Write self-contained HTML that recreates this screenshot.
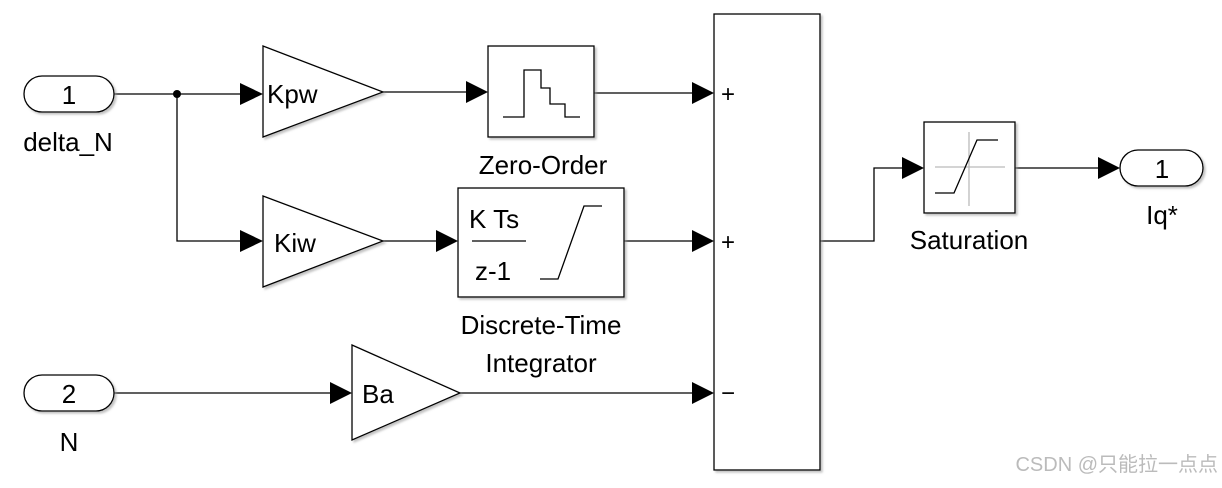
<!DOCTYPE html>
<html><head><meta charset="utf-8"><style>
body{margin:0;background:#fff;width:1222px;height:483px;overflow:hidden}
text{font-family:"Liberation Sans",Arial,sans-serif;fill:#000}
</style></head><body>
<svg width="1222" height="483" viewBox="0 0 1222 483" xmlns="http://www.w3.org/2000/svg">
<defs>
<filter id="sh" x="-10%" y="-10%" width="130%" height="130%"><feDropShadow dx="2" dy="2" stdDeviation="1" flood-color="#999" flood-opacity="0.6"/></filter>
</defs>
<g stroke="#000" stroke-width="1.3" fill="none">
<path d="M114,94 H240"/>
<path d="M177,94 V241 H240"/>
<path d="M383,92 H466"/>
<path d="M383,241 H436"/>
<path d="M594,93 H692"/>
<path d="M624,241 H692"/>
<path d="M114,393 H330"/>
<path d="M460,393 H692"/>
<path d="M820,241 H874 V168 H902"/>
<path d="M1015,168 H1098"/>
</g>
<circle cx="177" cy="94" r="4" fill="#000"/>
<g fill="#000">
<path d="M240,83 L263,94 L240,105Z"/>
<path d="M240,230 L263,241 L240,252Z"/>
<path d="M466,81 L488,92 L466,103Z"/>
<path d="M436,230 L458,241 L436,252Z"/>
<path d="M692,82 L714,93 L692,104Z"/>
<path d="M692,230 L714,241 L692,252Z"/>
<path d="M692,382 L714,393 L692,404Z"/>
<path d="M330,382 L352,393 L330,404Z"/>
<path d="M902,157 L924,168 L902,179Z"/>
<path d="M1098,157 L1120,168 L1098,179Z"/>
</g>
<g stroke="#000" stroke-width="1.3" fill="#fff" filter="url(#sh)">
<rect x="24" y="76" width="90" height="36" rx="18"/>
<rect x="24" y="375" width="90" height="36" rx="18"/>
<rect x="1120" y="150" width="83" height="36" rx="18"/>
<path d="M263,46 L383,92 L263,137Z"/>
<path d="M263,196 L383,241 L263,287Z"/>
<path d="M352,345 L460,393 L352,440Z"/>
<rect x="488" y="46" width="106" height="91"/>
<rect x="458" y="188" width="166" height="109"/>
<rect x="714" y="14" width="106" height="456"/>
<rect x="924" y="122" width="91" height="91"/>
</g>
<g stroke="#000" stroke-width="1.3" fill="none">
<path d="M503,117 H524 V70 H541 V88 H550 V104 H565 V117 H580"/>
<path d="M472,241 H526"/>
<path d="M540,279 H558 L584,206 H602"/>
<path d="M935,167 H1005 M969,132 V206" stroke="#bbb"/>
<path d="M935,193 H954 L977,140 H998"/>
</g>
<g font-size="26">
<text x="69" y="104" text-anchor="middle">1</text>
<text x="69" y="403" text-anchor="middle">2</text>
<text x="1162" y="178" text-anchor="middle">1</text>
<text x="68" y="151" text-anchor="middle">delta_N</text>
<text x="69" y="451" text-anchor="middle">N</text>
<text x="1162" y="224" text-anchor="middle">Iq*</text>
<text x="267" y="103">Kpw</text>
<text x="274" y="252">Kiw</text>
<text x="362" y="403">Ba</text>
<text x="543" y="174" text-anchor="middle">Zero-Order</text>
<text x="541" y="334" text-anchor="middle">Discrete-Time</text>
<text x="541" y="372" text-anchor="middle">Integrator</text>
<text x="969" y="249" text-anchor="middle">Saturation</text>
<text x="469" y="228">K Ts</text>
<text x="475" y="280">z-1</text>
</g>
<g font-size="24">
<text x="721" y="102">+</text>
<text x="721" y="250">+</text>
<text x="721" y="401">−</text>
</g>
<text x="1218" y="471" text-anchor="end" font-size="20" style="fill:#bbb;font-family:'Liberation Sans','Noto Sans CJK SC',sans-serif">CSDN @只能拉一点点</text>
</svg>
</body></html>
